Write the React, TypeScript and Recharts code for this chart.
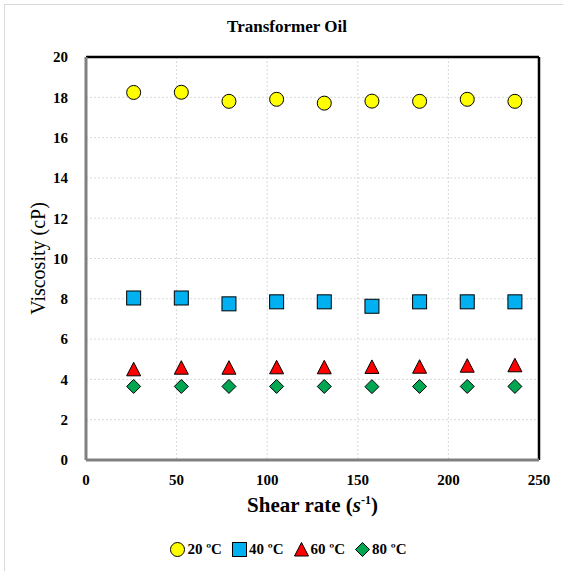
import React from 'react';
import {
  ScatterChart,
  Scatter,
  XAxis,
  YAxis,
  ZAxis,
  CartesianGrid,
  ReferenceLine,
  Legend,
} from 'recharts';

const shearRate = [26.3, 52.6, 78.9, 105.2, 131.5, 157.8, 184.1, 210.4, 236.7];
const visc20 = [18.24, 18.25, 17.8, 17.9, 17.71, 17.81, 17.8, 17.9, 17.8];
const visc40 = [8.04, 8.04, 7.75, 7.85, 7.85, 7.63, 7.85, 7.85, 7.85];
const visc60 = [4.5, 4.58, 4.58, 4.6, 4.6, 4.62, 4.63, 4.68, 4.7];
const visc80 = [3.65, 3.65, 3.65, 3.65, 3.65, 3.64, 3.65, 3.65, 3.65];
const xTicks = [0, 50, 100, 150, 200, 250];
const yTicks = [0, 2, 4, 6, 8, 10, 12, 14, 16, 18, 20];

const toPoints = (ys: number[]) => shearRate.map((x, i) => ({ x, y: ys[i] }));

const FONT = "'Liberation Serif', serif";
const tickStyle = { fontFamily: FONT, fontWeight: 'bold', fontSize: 15, fill: '#000' };

const Circle = ({ cx, cy }: any) => (
  <circle cx={cx} cy={cy} r={7} fill="#ffff00" stroke="#000" strokeWidth={1} />
);
const Square = ({ cx, cy }: any) => (
  <rect x={cx - 7} y={cy - 7} width={14} height={14} fill="#00b0f0" stroke="#000" strokeWidth={1} />
);
const Triangle = ({ cx, cy }: any) => (
  <polygon
    points={`${cx},${cy - 7} ${cx + 7},${cy + 6.5} ${cx - 7},${cy + 6.5}`}
    fill="#ff0000"
    stroke="#000"
    strokeWidth={1}
  />
);
const Diamond = ({ cx, cy }: any) => (
  <polygon
    points={`${cx},${cy - 7} ${cx + 7},${cy} ${cx},${cy + 7} ${cx - 7},${cy}`}
    fill="#00a651"
    stroke="#000"
    strokeWidth={1}
  />
);

const series = [
  { name: '20 ºC', data: visc20, shape: Circle },
  { name: '40 ºC', data: visc40, shape: Square },
  { name: '60 ºC', data: visc60, shape: Triangle },
  { name: '80 ºC', data: visc80, shape: Diamond },
];

const LegendContent = () => (
  <div
    style={{
      display: 'flex',
      justifyContent: 'center',
      gap: 10,
      paddingLeft: 14,
      fontFamily: FONT,
      fontWeight: 'bold',
      fontSize: 15,
      lineHeight: '16px',
      color: '#000',
    }}
  >
    {series.map((s) => {
      const Shape = s.shape;
      return (
        <span key={s.name} style={{ display: 'flex', alignItems: 'center', gap: 2 }}>
          <svg width={15} height={15}>
            <Shape cx={7.5} cy={7.5} />
          </svg>
          {s.name}
        </span>
      );
    })}
  </div>
);

export default function App() {
  return (
    <div
      style={{
        position: 'absolute',
        left: 0,
        top: 0,
        width: 563,
        height: 571,
        background: '#fff',
        fontFamily: FONT,
      }}
    >
      <div
        style={{
          position: 'absolute',
          left: 4,
          top: 4,
          right: 0,
          bottom: 0,
          borderTop: '1px solid #d9d9d9',
          borderLeft: '1px solid #d9d9d9',
        }}
      />
      <div
        style={{
          position: 'absolute',
          top: 17,
          left: 0,
          width: 574,
          textAlign: 'center',
          fontWeight: 'bold',
          fontSize: 17,
        }}
      >
        Transformer Oil
      </div>
      <ScatterChart
        width={563}
        height={571}
        margin={{ top: 57, right: 24, bottom: 26, left: 0 }}
        style={{ position: 'absolute', left: 0, top: 0, fontFamily: FONT }}
      >
        <CartesianGrid stroke="#d9d9d9" strokeDasharray="2 2" />
        <XAxis
          type="number"
          dataKey="x"
          domain={[0, 250]}
          ticks={xTicks}
          tickLine={false}
          axisLine={{ stroke: '#808080', strokeWidth: 3 }}
          tick={{ ...tickStyle, style: { fontFamily: FONT } }}
          tickMargin={8}
          height={69}
          label={(props: any) => {
            const vb = props.viewBox;
            return (
              <text
                x={vb.x + vb.width / 2}
                y={512}
                textAnchor="middle"
                fontFamily={FONT}
                fontWeight="bold"
                fontSize={21}
                fill="#000"
              >
                Shear rate (
                <tspan fontStyle="italic">s</tspan>
                <tspan dy={-8} fontSize={12}>-1</tspan>
                <tspan dy={8}>)</tspan>
              </text>
            );
          }}
        />
        <YAxis
          type="number"
          dataKey="y"
          domain={[0, 20]}
          ticks={yTicks}
          tickLine={false}
          axisLine={{ stroke: '#808080', strokeWidth: 3 }}
          tick={{ ...tickStyle, style: { fontFamily: FONT } }}
          tickMargin={12}
          width={86}
          label={(props: any) => {
            const vb = props.viewBox;
            const cy = vb.y + vb.height / 2;
            return (
              <text
                x={38}
                y={cy}
                transform={`rotate(-90, 38, ${cy})`}
                textAnchor="middle"
                dominantBaseline="central"
                fontFamily={FONT}
                fontSize={20}
                fill="#000"
              >
                Viscosity (cP)
              </text>
            );
          }}
        />
        <ZAxis range={[150, 150]} />
        <ReferenceLine y={20} stroke="#000" strokeWidth={2.5} />
        <ReferenceLine x={250} stroke="#000" strokeWidth={2.5} />
        <Legend
          verticalAlign="bottom"
          wrapperStyle={{ top: 541, left: 0, width: 563 }}
          content={() => <LegendContent />}
        />
        {series.map((s) => (
          <Scatter
            key={s.name}
            name={s.name}
            data={toPoints(s.data)}
            shape={s.shape}
            isAnimationActive={false}
          />
        ))}
      </ScatterChart>
    </div>
  );
}
